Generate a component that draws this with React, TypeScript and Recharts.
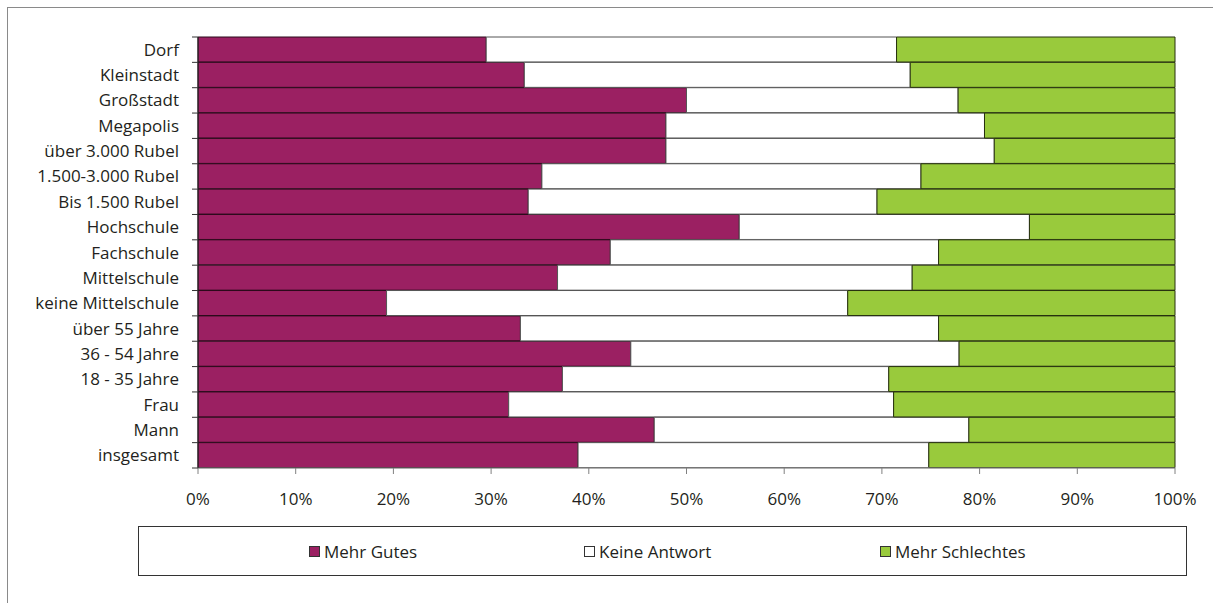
import React from 'react';
import { BarChart, Bar, XAxis, YAxis, Legend } from 'recharts';

const categories = [
  'Dorf',
  'Kleinstadt',
  'Großstadt',
  'Megapolis',
  'über 3.000 Rubel',
  '1.500-3.000 Rubel',
  'Bis 1.500 Rubel',
  'Hochschule',
  'Fachschule',
  'Mittelschule',
  'keine Mittelschule',
  'über 55 Jahre',
  '36 - 54 Jahre',
  '18 - 35 Jahre',
  'Frau',
  'Mann',
  'insgesamt',
];

const mehrGutes = [29.5, 33.4, 50.0, 47.9, 47.9, 35.2, 33.8, 55.4, 42.2, 36.8, 19.3, 33.0, 44.3, 37.3, 31.8, 46.7, 38.9];
const keineAntwort = [42.0, 39.5, 27.8, 32.6, 33.6, 38.8, 35.7, 29.7, 33.6, 36.3, 47.2, 42.8, 33.6, 33.4, 39.4, 32.2, 35.9];
const mehrSchlechtes = [28.5, 27.1, 22.2, 19.5, 18.5, 26.0, 30.5, 14.9, 24.2, 26.9, 33.5, 24.2, 22.1, 29.3, 28.8, 21.1, 25.2];

const xTicks = [0, 0.1, 0.2, 0.3, 0.4, 0.5, 0.6, 0.7, 0.8, 0.9, 1];

const seriesKeys = ['gutes', 'keine', 'schlechtes'];
const seriesNames = ['Mehr Gutes', 'Keine Antwort', 'Mehr Schlechtes'];
const seriesFills = ['#9B2062', '#FFFFFF', '#99CA3C'];
const seriesStrokes = ['#2a0a1a', '#555555', '#26300f'];

const data = categories.map((c, i) => ({
  name: c,
  gutes: mehrGutes[i],
  keine: keineAntwort[i],
  schlechtes: mehrSchlechtes[i],
}));

const W = 1213;
const H = 603;
const MARGIN = { top: 37, right: 38, left: 0, bottom: 0 };
const Y_AXIS_W = 198;
const X_AXIS_H = 135;
const TICK_SIZE = 6;
const Y_TICK_MARGIN = 13;
const FONT = "'Open Sans', 'Noto Sans', sans-serif";
const TEXT_COLOR = '#231f20';

const YTick = (props: any) => {
  const { x, y, payload, index, visibleTicksCount } = props;
  const plotH = H - MARGIN.top - X_AXIS_H;
  const half = typeof payload.offset === 'number' && payload.offset > 0 ? payload.offset : plotH / categories.length / 2;
  const axisX = x + Y_TICK_MARGIN + TICK_SIZE;
  return (
    <g>
      <line x1={axisX - TICK_SIZE} x2={axisX} y1={y - half} y2={y - half} stroke="#333" strokeWidth={1} />
      {index === visibleTicksCount - 1 && (
        <line x1={axisX - TICK_SIZE} x2={axisX} y1={y + half} y2={y + half} stroke="#333" strokeWidth={1} />
      )}
      <text x={x} y={y} dy="0.355em" textAnchor="end" fontSize={17} fontFamily={FONT} fill={TEXT_COLOR}>
        {payload.value}
      </text>
    </g>
  );
};

const renderLegend = () => (
  <div
    style={{
      position: 'relative',
      width: 1049,
      height: 50,
      border: '1px solid #333',
      boxSizing: 'border-box',
      background: '#fff',
      fontFamily: FONT,
      fontSize: 17,
      color: TEXT_COLOR,
    }}
  >
    {seriesNames.map((n, i) => (
      <div
        key={n}
        style={{
          position: 'absolute',
          left: [170, 445, 741][i],
          top: 0,
          height: 48,
          display: 'flex',
          alignItems: 'center',
          whiteSpace: 'nowrap',
        }}
      >
        <span
          style={{
            display: 'inline-block',
            width: 9,
            height: 9,
            background: seriesFills[i],
            border: '1px solid #333',
            marginRight: 4,
          }}
        />
        <span>{n}</span>
      </div>
    ))}
  </div>
);

export default function App() {
  return (
    <div style={{ position: 'absolute', left: 0, top: 0, width: W, height: H, overflow: 'hidden', background: '#fff' }}>
      <div
        style={{
          position: 'absolute',
          left: 7,
          top: 7,
          width: W + 40,
          height: H + 40,
          border: '1px solid #8a8a8a',
          boxSizing: 'border-box',
          pointerEvents: 'none',
        }}
      />
      <BarChart
        width={W}
        height={H}
        data={data}
        layout="vertical"
        stackOffset="expand"
        barCategoryGap={0}
        margin={MARGIN}
      >
        <XAxis
          type="number"
          domain={[0, 1]}
          ticks={xTicks}
          interval={0}
          tickFormatter={(v: number) => `${Math.round(v * 100)}%`}
          height={X_AXIS_H}
          tickSize={TICK_SIZE}
          tickMargin={19}
          axisLine={{ stroke: '#808080' }}
          tickLine={{ stroke: '#808080' }}
          tick={{ fontSize: 17, fontFamily: FONT, fill: TEXT_COLOR }}
        />
        <YAxis
          type="category"
          dataKey="name"
          width={Y_AXIS_W}
          interval={0}
          tickSize={TICK_SIZE}
          tickMargin={Y_TICK_MARGIN}
          tickLine={false}
          axisLine={{ stroke: '#222' }}
          tick={<YTick />}
        />
        <Legend
          layout="horizontal"
          verticalAlign="middle"
          align="center"
          content={renderLegend}
          wrapperStyle={{ position: 'absolute', left: 138, top: 526, width: 1049, height: 50 }}
        />
        {seriesKeys.map((k, i) => (
          <Bar
            key={k}
            dataKey={k}
            name={seriesNames[i]}
            stackId="a"
            fill={seriesFills[i]}
            stroke={seriesStrokes[i]}
            strokeWidth={1}
            isAnimationActive={false}
          />
        ))}
      </BarChart>
    </div>
  );
}
